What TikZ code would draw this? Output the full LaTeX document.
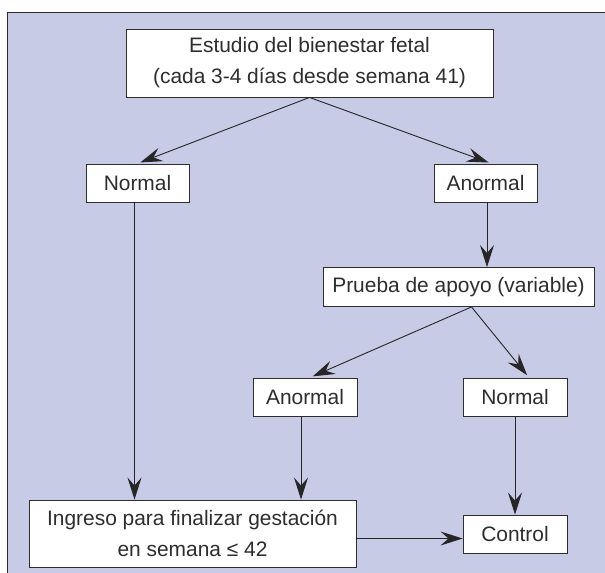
\documentclass[tikz,border=0pt]{standalone}
\usepackage{fontspec}
\setmainfont{Liberation Sans}
\usepackage{tikz}
\usetikzlibrary{arrows.meta,positioning,calc}
\definecolor{fondo}{RGB}{200,203,230}
\definecolor{tinta}{RGB}{45,45,45}

\begin{document}
\begin{tikzpicture}[x=1bp,y=1bp,>={Stealth[length=22bp,width=14bp,inset=8bp]},
    font=\fontsize{21}{31}\selectfont,
    caja/.style={draw=tinta,line width=0.9bp,fill=white,text=tinta,align=center,inner sep=0pt},
    flecha/.style={->,line width=0.9bp,draw=black!85,shorten >=3bp}]
  \useasboundingbox (0,0) rectangle (605,573);
  % fondo y marco
  \fill[fondo] (7,0) rectangle (605,561);
  \draw[line width=0.9bp,tinta] (7,0) -- (7,561) -- (605,561);
  % cajas
  \node[caja,minimum width=367bp,minimum height=68bp] (estudio) at (309.5,510)
       {Estudio del bienestar fetal\\(cada 3-4 días desde semana 41)};
  \node[caja,minimum width=103bp,minimum height=38bp] (normA) at (137.5,390) {Normal};
  \node[caja,minimum width=103bp,minimum height=38bp] (anormA) at (485.5,390) {Anormal};
  \node[caja,minimum width=271bp,minimum height=39bp] (prueba) at (458.5,286)
       {Prueba de apoyo (variable)};
  \node[caja,minimum width=104bp,minimum height=38bp] (anormB) at (305,176) {Anormal};
  \node[caja,minimum width=104bp,minimum height=38bp] (normB) at (515,176) {Normal};
  \node[caja,minimum width=327bp,minimum height=67bp] (ingreso) at (192.5,39.5)
       {Ingreso para finalizar gestación\\en semana ≤ 42};
  \node[caja,minimum width=104bp,minimum height=38bp] (control) at (515,39) {Control};
  % puntos de salida
  \coordinate (pruebaOut) at ([xshift=13bp]prueba.south);
  \coordinate (normBIn) at ([xshift=14bp]normB.north);
  % flechas
  \draw[flecha] (estudio.south) -- (normA.north);
  \draw[flecha] (estudio.south) -- ([xshift=6bp]anormA.north);
  \draw[flecha,shorten >=0pt] ([xshift=-3bp]normA.south) -- ([xshift=-3bp]normA.south |- ingreso.north);
  \draw[flecha,shorten >=0pt] ([xshift=1.5bp]anormA.south) -- ([xshift=1.5bp]anormA.south |- prueba.north);
  \draw[flecha] (pruebaOut) -- ([xshift=5bp]anormB.north);
  \draw[flecha] (pruebaOut) -- (normBIn);
  \draw[flecha,shorten >=0pt] ([xshift=-4bp]anormB.south) -- ([xshift=-4bp]anormB.south |- ingreso.north);
  \draw[flecha,shorten >=0pt] (normB.south) -- (control.north);
  \draw[flecha,shorten >=0pt] ([yshift=-5bp]ingreso.east) -- ([yshift=-5bp]ingreso.east -| control.west);
\end{tikzpicture}
\end{document}
